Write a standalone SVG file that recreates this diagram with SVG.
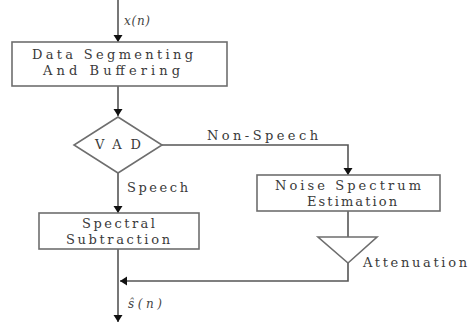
<svg xmlns="http://www.w3.org/2000/svg" width="470" height="327" viewBox="0 0 470 327">
<style>
.box{fill:#fff;stroke:#6e6e6e;stroke-width:1.6}
.ln{fill:none;stroke:#555;stroke-width:1.6}
.t{font-family:"DejaVu Serif","Liberation Serif",serif;font-size:13px;fill:#3a3a3a}
.m{font-family:"DejaVu Serif","Liberation Serif",serif;font-size:12px;font-style:italic;fill:#444}
</style>
<defs>
<marker id="ah" markerUnits="userSpaceOnUse" markerWidth="8" markerHeight="10" refX="7" refY="5" orient="auto">
<path d="M0,0.5 L7,5 L0,9.5 z" fill="#111"/>
</marker>
</defs>
<rect width="470" height="327" fill="#fff"/>
<g id="connectors">
<line class="ln" x1="118" y1="0" x2="118" y2="42" marker-end="url(#ah)"/>
<line class="ln" x1="118" y1="86" x2="118" y2="116" marker-end="url(#ah)"/>
<polyline class="ln" points="162,145 348,145 348,175" marker-end="url(#ah)"/>
<line class="ln" x1="118" y1="173" x2="118" y2="213" marker-end="url(#ah)"/>
<line class="ln" x1="348" y1="211" x2="348" y2="237"/>
<polyline class="ln" points="348,263 348,281 120,281" marker-end="url(#ah)"/>
<line class="ln" x1="118" y1="249" x2="118" y2="322" marker-end="url(#ah)"/>
<text class="m" x="124" y="25" textLength="26" lengthAdjust="spacing">x(n)</text>
<text class="t" x="207" y="140" textLength="111" lengthAdjust="spacing">Non-Speech</text>
<text class="t" x="127" y="192" textLength="61" lengthAdjust="spacing">Speech</text>
<text class="m" x="128" y="308" textLength="34" lengthAdjust="spacing">ŝ(n)</text>
</g>
<g id="segmenting">
<rect class="box" x="12" y="42" width="215" height="44"/>
<text class="t" x="32" y="59" textLength="161" lengthAdjust="spacing">Data Segmenting</text>
<text class="t" x="43" y="75" textLength="137" lengthAdjust="spacing">And Buffering</text>
</g>
<g id="vad">
<polygon class="box" points="118,117 162,145 118,173 74,145"/>
<text class="t" x="95" y="149" textLength="46" lengthAdjust="spacing">VAD</text>
</g>
<g id="noise">
<rect class="box" x="257" y="175" width="183" height="36"/>
<text class="t" x="275" y="190" textLength="146" lengthAdjust="spacing">Noise Spectrum</text>
<text class="t" x="307" y="206" textLength="90" lengthAdjust="spacing">Estimation</text>
</g>
<g id="spectral">
<rect class="box" x="39" y="213" width="160" height="36"/>
<text class="t" x="82" y="228" textLength="73" lengthAdjust="spacing">Spectral</text>
<text class="t" x="66" y="244" textLength="104" lengthAdjust="spacing">Subtraction</text>
</g>
<g id="attenuation">
<polygon class="box" points="318,237 377,237 348,263"/>
<text class="t" x="363" y="267" textLength="104" lengthAdjust="spacing">Attenuation</text>
</g>
</svg>
